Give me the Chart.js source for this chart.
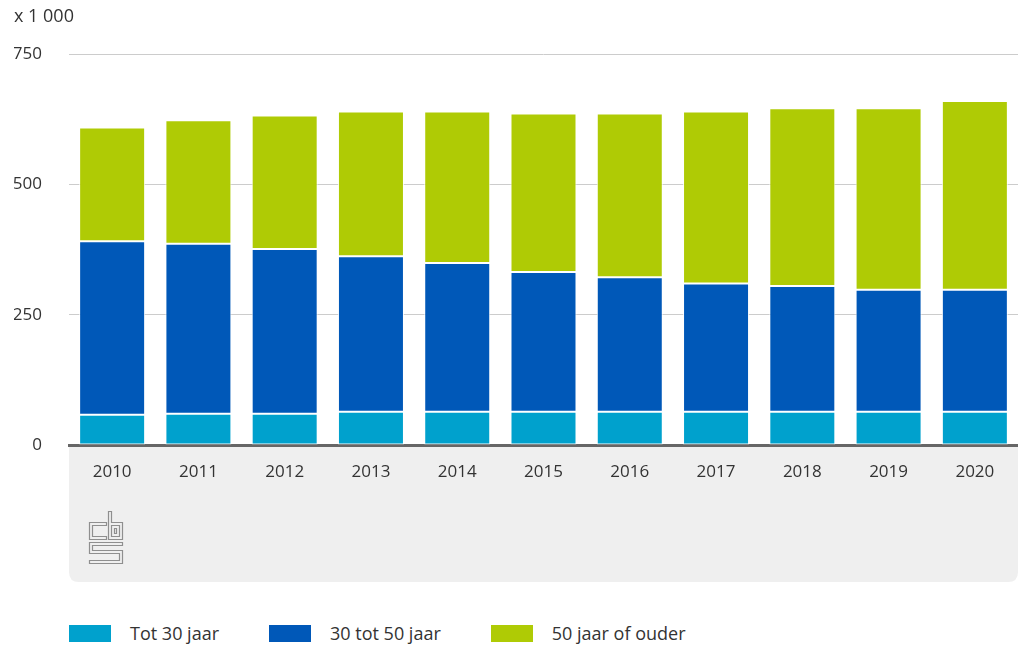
<!DOCTYPE html>
<html>
<head>
<meta charset="utf-8">
<script src="https://cdn.jsdelivr.net/npm/chart.js@4/dist/chart.umd.min.js"></script>
<style>
  html, body { margin: 0; padding: 0; background: #fff; }
  #wrap { position: relative; width: 1018px; height: 645px; overflow: hidden; }
  #cbox { position: absolute; left: 0; top: 0; width: 1018px; height: 602px; }
  #legend { position: absolute; left: 69px; top: 624px; height: 18px; line-height: 18px; display: flex; align-items: center;
            font-family: "Open Sans", sans-serif; font-size: 18px; color: #333; }
  .item { display: flex; align-items: center; margin-right: 50px; height: 18px; }
  .sw { width: 42px; height: 17px; margin-right: 19px; }
</style>
</head>
<body>
<div id="wrap">
  <div id="cbox"><canvas id="c"></canvas></div>
  <div id="legend"></div>
</div>
<script>
const categories = ["2010","2011","2012","2013","2014","2015","2016","2017","2018","2019","2020"];
const seriesNames = ["Tot 30 jaar", "30 tot 50 jaar", "50 jaar of ouder"];
const tot30 = [58, 60, 60, 64, 64, 64, 64, 64, 64, 64, 64];
const van30tot50 = [333, 326, 316, 298, 285, 268, 258, 246, 241, 234, 234];
const vanaf50 = [218, 237, 256, 278, 291, 304, 314, 330, 341, 348, 362];
const yTicks = [0, 250, 500, 750];
const unitLabel = "x 1 000";
const colors = ["#00A1CD", "#0058B8", "#AFCB05"];

const FONT = '"Open Sans", sans-serif';

const bgPlugin = {
  id: 'bgArea',
  beforeDraw(chart) {
    const {ctx, chartArea} = chart;
    const xs = chart.scales.x;
    const l = chartArea.left, r = chartArea.right, t = chartArea.bottom, b = xs.bottom;
    const rad = 10;
    ctx.save();
    ctx.fillStyle = '#efefef';
    ctx.beginPath();
    ctx.moveTo(l, t);
    ctx.lineTo(r, t);
    ctx.lineTo(r, b - rad);
    ctx.quadraticCurveTo(r, b, r - rad, b);
    ctx.lineTo(l + rad, b);
    ctx.quadraticCurveTo(l, b, l, b - rad);
    ctx.closePath();
    ctx.fill();
    // simplified cbs logo (decoration)
    const ox = l + 20.5, oy = t + 66.5;
    const poly = (pts) => {
      ctx.beginPath();
      pts.forEach((p, k) => k ? ctx.lineTo(ox + p[0], oy + p[1]) : ctx.moveTo(ox + p[0], oy + p[1]));
      ctx.closePath();
      ctx.stroke();
    };
    ctx.strokeStyle = '#8f8f8f';
    ctx.lineWidth = 1.2;
    // c
    poly([[17,11],[0,11],[0,28],[17,28],[17,25],[3,25],[3,14],[17,14]]);
    // b
    poly([[19,0],[22,0],[22,11],[33,11],[33,28],[19,28]]);
    poly([[22,14],[30,14],[30,25],[22,25]]);
    poly([[25,17],[27,17],[27,22],[25,22]]);
    // S
    poly([[0,31],[33,31],[33,34],[3,34],[3,39],[33,39],[33,52],[0,52],[0,49],[30,49],[30,42],[0,42]]);
    ctx.restore();
  }
};

const seriesData = [tot30, van30tot50, vanaf50];
const datasets = seriesNames.map((name, i) => ({
  label: name,
  data: seriesData[i],
  backgroundColor: colors[i],
  borderColor: 'rgba(255,255,255,0.85)',
  borderWidth: 1,
  borderSkipped: false,
  categoryPercentage: 1,
  barPercentage: 0.765
}));

new Chart(document.getElementById('c'), {
  type: 'bar',
  data: { labels: categories, datasets },
  plugins: [bgPlugin],
  options: {
    responsive: true,
    maintainAspectRatio: false,
    animation: false,
    layout: { padding: { left: 14, right: 0, top: 0, bottom: 20 } },
    plugins: {
      legend: { display: false },
      tooltip: { enabled: false },
      title: {
        display: true, text: unitLabel, align: 'start',
        color: '#333', font: { family: FONT, size: 18, weight: 'normal' },
        padding: { top: 6, bottom: 26.5 }
      }
    },
    scales: {
      x: {
        stacked: true,
        grid: { display: false, drawTicks: false },
        border: { display: true, color: '#666', width: 3 },
        ticks: { color: '#333', font: { family: FONT, size: 17 }, padding: 17, maxRotation: 0 },
        afterFit(s) { s.height = 137; }
      },
      y: {
        stacked: true,
        min: 0, max: 750,
        afterBuildTicks(s) { s.ticks = yTicks.map(v => ({ value: v })); },
        grid: { color: '#cccccc', lineWidth: 1, drawTicks: false },
        border: { display: false },
        ticks: { color: '#333', font: { family: FONT, size: 17 }, padding: 27 },
        afterFit(s) { s.width = 55; }
      }
    }
  }
});

const lg = document.getElementById('legend');
seriesNames.forEach((n, i) => {
  const it = document.createElement('div'); it.className = 'item';
  const sw = document.createElement('div'); sw.className = 'sw'; sw.style.background = colors[i];
  const tx = document.createElement('span'); tx.textContent = n;
  it.appendChild(sw); it.appendChild(tx); lg.appendChild(it);
});
</script>
</body>
</html>
